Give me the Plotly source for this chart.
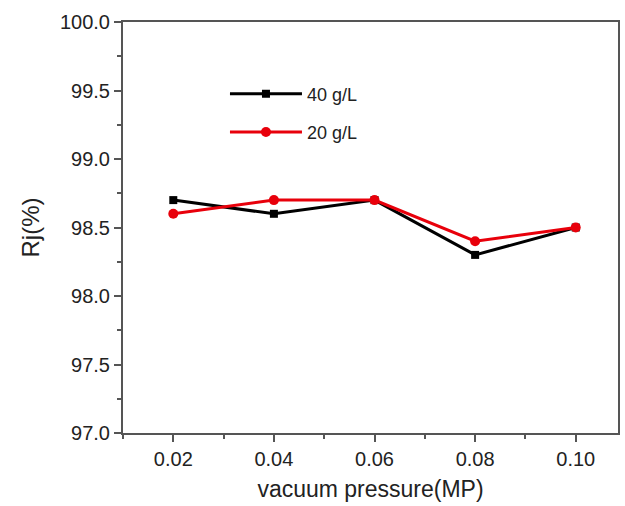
import plotly.graph_objects as go

pressure = [0.02, 0.04, 0.06, 0.08, 0.10]
rj_40 = [98.7, 98.6, 98.7, 98.3, 98.5]
rj_20 = [98.6, 98.7, 98.7, 98.4, 98.5]
x_ticks = [0.02, 0.04, 0.06, 0.08, 0.10]
x_tick_labels = ["0.02", "0.04", "0.06", "0.08", "0.10"]
y_ticks = [97.0, 97.5, 98.0, 98.5, 99.0, 99.5, 100.0]
y_tick_labels = ["97.0", "97.5", "98.0", "98.5", "99.0", "99.5", "100.0"]

font_family = "Liberation Sans, Arial, sans-serif"
axis_color = "#555555"

fig = go.Figure()
fig.add_trace(go.Scatter(
    x=pressure, y=rj_40, name="40 g/L", mode="lines+markers", legendgroup="a",
    line=dict(color="black", width=3),
    marker=dict(symbol="square", size=8, color="black"),
))
fig.add_trace(go.Scatter(
    x=pressure, y=rj_20, name="20 g/L", mode="lines+markers", legendgroup="b",
    line=dict(color="#e8000b", width=3),
    marker=dict(symbol="circle", size=10, color="#e8000b"),
))

fig.update_layout(
    width=625, height=506,
    margin=dict(l=123, r=5, t=22, b=73),
    paper_bgcolor="white", plot_bgcolor="white",
    font=dict(family=font_family, size=20, color="#222222"),
    showlegend=True,
    legend=dict(
        x=0.206, y=0.87, xanchor="left", yanchor="top",
        bgcolor="rgba(0,0,0,0)", font=dict(size=18, color="#222222"),
        tracegroupgap=12, itemwidth=72,
    ),
    xaxis=dict(
        range=[0.01, 0.1084], tickvals=x_ticks, ticktext=x_tick_labels,
        ticks="outside", ticklen=7, tickwidth=2, tickcolor=axis_color,
        showline=True, linecolor=axis_color, linewidth=2, mirror=True,
        showgrid=False, zeroline=False,
        minor=dict(ticks="outside", ticklen=4, tickwidth=2, tickcolor=axis_color, dtick=0.01, tick0=0.01),
        title=dict(text="vacuum pressure(MP)", font=dict(size=23), standoff=12),
        tickfont=dict(size=20),
    ),
    yaxis=dict(
        range=[97.0, 100.0], tickvals=y_ticks, ticktext=y_tick_labels,
        ticks="outside", ticklen=7, tickwidth=2, tickcolor=axis_color,
        showline=True, linecolor=axis_color, linewidth=2, mirror=True,
        showgrid=False, zeroline=False,
        minor=dict(ticks="outside", ticklen=4, tickwidth=2, tickcolor=axis_color, dtick=0.25, tick0=97.0),
        title=dict(text="Rj(%)", font=dict(size=24), standoff=14),
        tickfont=dict(size=20),
    ),
)

fig.write_html("out.html")
